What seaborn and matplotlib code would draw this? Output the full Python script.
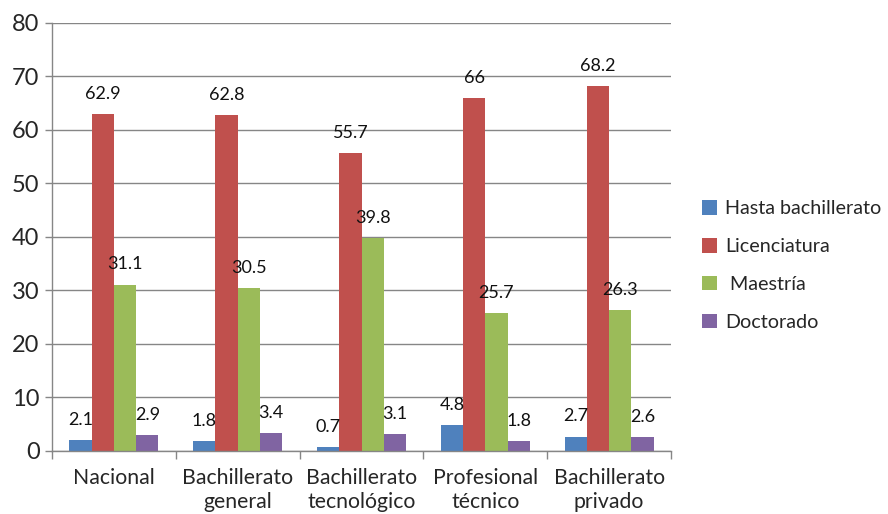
import matplotlib
matplotlib.use("Agg")
import matplotlib.pyplot as plt
import seaborn as sns
import pandas as pd
import numpy as np

categories = ["Nacional", "Bachillerato\ngeneral", "Bachillerato\ntecnológico",
              "Profesional\ntécnico", "Bachillerato\nprivado"]
series = ["Hasta bachillerato", "Licenciatura", "Maestría", "Doctorado"]
hasta_bachillerato = [2.1, 1.8, 0.7, 4.8, 2.7]
licenciatura = [62.9, 62.8, 55.7, 66, 68.2]
maestria = [31.1, 30.5, 39.8, 25.7, 26.3]
doctorado = [2.9, 3.4, 3.1, 1.8, 2.6]
colors = ["#4F81BD", "#C0504D", "#9BBB59", "#8064A2"]

values = [hasta_bachillerato, licenciatura, maestria, doctorado]
rows = []
for s, vals in zip(series, values):
    for c, v in zip(categories, vals):
        rows.append({"categoria": c, "nivel": s, "valor": v})
df = pd.DataFrame(rows)

sns.set_theme(style="white")
plt.rcParams["font.family"] = ["Lato", "DejaVu Sans"]

fig = plt.figure(figsize=(8.88, 5.14), dpi=100)
ax = fig.add_axes([0.0586, 0.1226, 0.6970, 0.8327])

sns.barplot(data=df, x="categoria", y="valor", hue="nivel", order=categories,
            hue_order=series, palette=colors, width=0.72, saturation=1,
            edgecolor="none", ax=ax, legend=True)

for cont, s in zip(ax.containers, series):
    labels = [f"{v:g}" for v in df[df.nivel == s]["valor"]]
    for bar, lab in zip(cont, labels):
        ax.annotate(lab, (bar.get_x() + bar.get_width() / 2, bar.get_height()),
                    xytext=(0, 14.5), textcoords="offset points",
                    ha="center", va="center", fontsize=13, color="#111111")

ax.set_ylim(0, 80)
ax.set_xlim(-0.5, 4.5)
ax.set_yticks(np.arange(0, 81, 10))
ax.yaxis.grid(True, color="#868686", linewidth=1.0)
ax.set_axisbelow(True)
ax.set_xlabel("")
ax.set_ylabel("")

for side in ["top", "right"]:
    ax.spines[side].set_visible(False)
for side in ["left", "bottom"]:
    ax.spines[side].set_color("#868686")
    ax.spines[side].set_linewidth(1.0)

ax.tick_params(axis="y", which="major", length=5, width=1, color="#868686",
               labelsize=17, pad=4, left=True)
ax.set_xticks(range(len(categories)))
ax.set_xticklabels(categories, fontsize=15.3, linespacing=1.25)
ax.tick_params(axis="x", which="major", length=0, pad=12)
ax.set_xticks(np.arange(-0.5, 5.0, 1.0), minor=True)
ax.tick_params(axis="x", which="minor", length=6, width=1, color="#868686",
               bottom=True)
for lbl in ax.get_xticklabels():
    lbl.set_verticalalignment("top")

handles, _ = ax.get_legend_handles_labels()
ax.legend(handles, ["Hasta bachillerato", "Licenciatura", " Maestría", "Doctorado"],
          loc="center left", bbox_to_anchor=(1.037, 0.433), frameon=False,
          fontsize=14.2, handlelength=0.75, handleheight=0.75, handletextpad=0.45,
          labelspacing=1.05, borderaxespad=0)

fig.savefig("out.png", dpi=100)
